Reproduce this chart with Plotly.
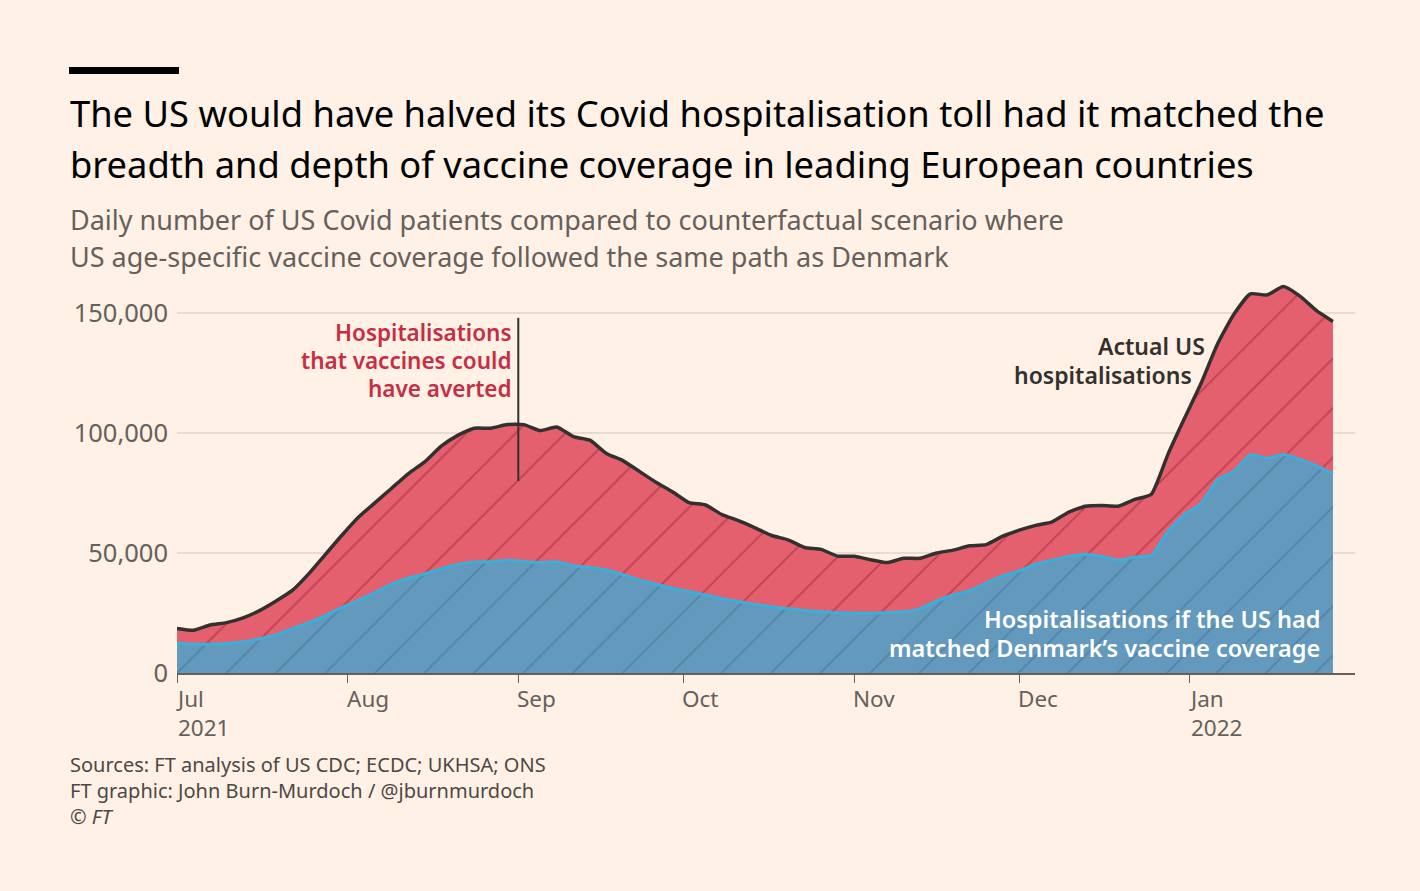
import plotly.graph_objects as go
import pandas as pd

# ---- data (thousands of patients, read every 3 days from 1 Jul 2021) ----
start_date = "2021-07-01"
step_days = 3
actual_k = [18.6, 17.8, 20, 21, 23, 26, 30, 34.5, 41.5, 49.5, 57.5, 65, 71, 77, 83,
            88, 94.5, 99, 102, 102, 103.5, 103.5, 101, 102.5, 98.5, 97, 91.5, 88.5,
            84, 79.5, 75.5, 71, 70, 66, 63.5, 60.5, 57.3, 55.5, 52.3, 51.5, 48.7,
            48.6, 47.2, 46, 47.8, 47.8, 50, 51.2, 53, 53.5, 57, 59.5, 61.5, 63, 67,
            69.5, 69.8, 69.5, 72.3, 74.5, 91, 106, 120.5, 137, 149.5, 158, 157.5,
            161, 157, 151, 146.5]
denmark_k = [12.4, 12, 12, 12.3, 13, 14.3, 16, 18.5, 21, 24, 27.3, 30.3, 33.5, 37,
             39.5, 41.3, 43.5, 45.2, 46.3, 46.4, 47, 46.5, 46, 46.4, 44.7, 44, 42.9,
             41, 38.8, 37, 35.3, 34, 32.5, 31, 29.8, 28.6, 27.6, 26.8, 26, 25.5,
             25.1, 25, 24.9, 25.2, 25.5, 26.8, 30, 32.5, 34.3, 37.5, 40.5, 42.5,
             45.3, 47, 48.6, 49.5, 48.5, 47, 48.3, 49, 59, 66, 70.5, 80.5, 84, 91,
             89.5, 91, 89, 86.3, 83]
tick_dates = ["2021-07-01", "2021-08-01", "2021-09-01", "2021-10-01",
              "2021-11-01", "2021-12-01", "2022-01-01"]
tick_labels = ["Jul<br>2021", "Aug", "Sep", "Oct", "Nov", "Dec", "Jan<br>2022"]
y_ticks = [0, 50000, 100000, 150000]
y_labels = ["0", "50,000", "100,000", "150,000"]

dates = pd.date_range(start_date, periods=len(actual_k), freq=f"{step_days}D")
actual = [v * 1000 for v in actual_k]
denmark = [v * 1000 for v in denmark_k]

BG = "#FFF1E5"
RED = "#E4606E"
BLUE = "#6399BD"
FONT = "Noto Sans"
SM = 0.5

fig = go.Figure()
fig.add_trace(go.Scatter(
    x=dates, y=denmark, mode="lines", line=dict(width=0, color=BLUE, shape="spline", smoothing=SM),
    fill="tozeroy", fillcolor=BLUE,
    fillpattern=dict(shape="/", bgcolor=BLUE, fgcolor="#3F6E90", size=35, solidity=0.05),
    hoverinfo="skip", showlegend=False))
fig.add_trace(go.Scatter(
    x=dates, y=actual, mode="lines", line=dict(width=0, color=RED, shape="spline", smoothing=SM),
    fill="tonexty", fillcolor=RED,
    fillpattern=dict(shape="/", bgcolor=RED, fgcolor="#9E2637", size=35, solidity=0.055),
    hoverinfo="skip", showlegend=False))
fig.add_trace(go.Scatter(
    x=dates, y=denmark, mode="lines", line=dict(width=3, color="#3AAFD9", shape="spline", smoothing=SM),
    hoverinfo="skip", showlegend=False))
fig.add_trace(go.Scatter(
    x=dates, y=actual, mode="lines", line=dict(width=3.5, color="#33302E", shape="spline", smoothing=SM),
    hoverinfo="skip", showlegend=False))

L, R, T, B = 177, 65, 277, 218
W, H = 1420, 891
pw, ph = W - L - R, H - T - B

def px(p):
    return (p - L) / pw

def py(p):
    return (H - B - p) / ph

annotations = []
for d, lab in zip(tick_dates, tick_labels):
    annotations.append(dict(x=d, y=0, xref="x", yref="paper", text=lab, showarrow=False,
                            xanchor="left", yanchor="top", align="left", yshift=-8, xshift=-3,
                            font=dict(family=FONT, size=22.5, color="#66605C")))

def text_line(x, y, txt, size, color, anchor="left", weight=None):
    f = dict(family=FONT, size=size, color=color)
    if weight:
        f["weight"] = weight
    return dict(x=px(x), y=py(y), xref="paper", yref="paper", xanchor=anchor, yanchor="middle",
                showarrow=False, text=txt, font=f)

annotations += [
    text_line(68, 113, "The US would have halved its Covid hospitalisation toll had it matched the", 36.3, "#000000"),
    text_line(68, 164, "breadth and depth of vaccine coverage in leading European countries", 36.3, "#000000"),
    text_line(68, 219, "Daily number of US Covid patients compared to counterfactual scenario where", 27, "#66605C"),
    text_line(68, 257, "US age-specific vaccine coverage followed the same path as Denmark", 27, "#66605C"),
    dict(x=px(68), y=py(749), xref="paper", yref="paper", xanchor="left", yanchor="top", align="left",
         showarrow=False,
         text="Sources: FT analysis of US CDC; ECDC; UKHSA; ONS<br>"
              "FT graphic: John Burn-Murdoch / @jburnmurdoch<br><i>© FT</i>",
         font=dict(family=FONT, size=20, color="#4D4845")),
    text_line(514, 332, "Hospitalisations", 22.5, "#C52E44", anchor="right", weight=600),
    text_line(514, 360, "that vaccines could", 22.5, "#C52E44", anchor="right", weight=600),
    text_line(514, 388, "have averted", 22.5, "#C52E44", anchor="right", weight=600),
    text_line(1207, 346, "Actual US", 23, "#33302E", anchor="right", weight=600),
    text_line(1194, 375, "hospitalisations", 23, "#33302E", anchor="right", weight=600),
    text_line(1322, 619, "Hospitalisations if the US had", 23.5, "#FFFFFF", anchor="right", weight=600),
    text_line(1322, 648, "matched Denmark’s vaccine coverage", 23.5, "#FFFFFF", anchor="right", weight=600),
]

shapes = [
    dict(type="rect", xref="paper", yref="paper", x0=px(69), x1=px(179), y0=py(67), y1=py(74),
         fillcolor="#000000", line=dict(width=0)),
    dict(type="line", xref="x", yref="y", x0="2021-09-01", x1="2021-09-01", y0=80000, y1=148000,
         line=dict(color="#33302E", width=2)),
]

fig.update_layout(
    width=W, height=H, paper_bgcolor=BG, plot_bgcolor=BG,
    margin=dict(l=L, r=R, t=T, b=B, autoexpand=False),
    annotations=annotations, shapes=shapes,
    xaxis=dict(range=["2021-07-01", "2022-01-31"], showgrid=False, showticklabels=False,
               tickvals=tick_dates, ticks="outside", ticklen=8, tickcolor="#66605C",
               showline=True, linecolor="#66605C", linewidth=1.5, zeroline=False),
    yaxis=dict(range=[0, 165000], tickvals=y_ticks, ticktext=y_labels, showgrid=True,
               gridcolor="#E8DCD1", gridwidth=1.5, zeroline=False, showline=False, ticks="",
               ticklabelstandoff=8,
               tickfont=dict(family=FONT, size=25.5, color="#66605C")),
)
fig.write_html("out.html", config={"displayModeBar": False},
               post_script="document.body.style.margin='0';document.body.style.background='#FFF1E5';")
